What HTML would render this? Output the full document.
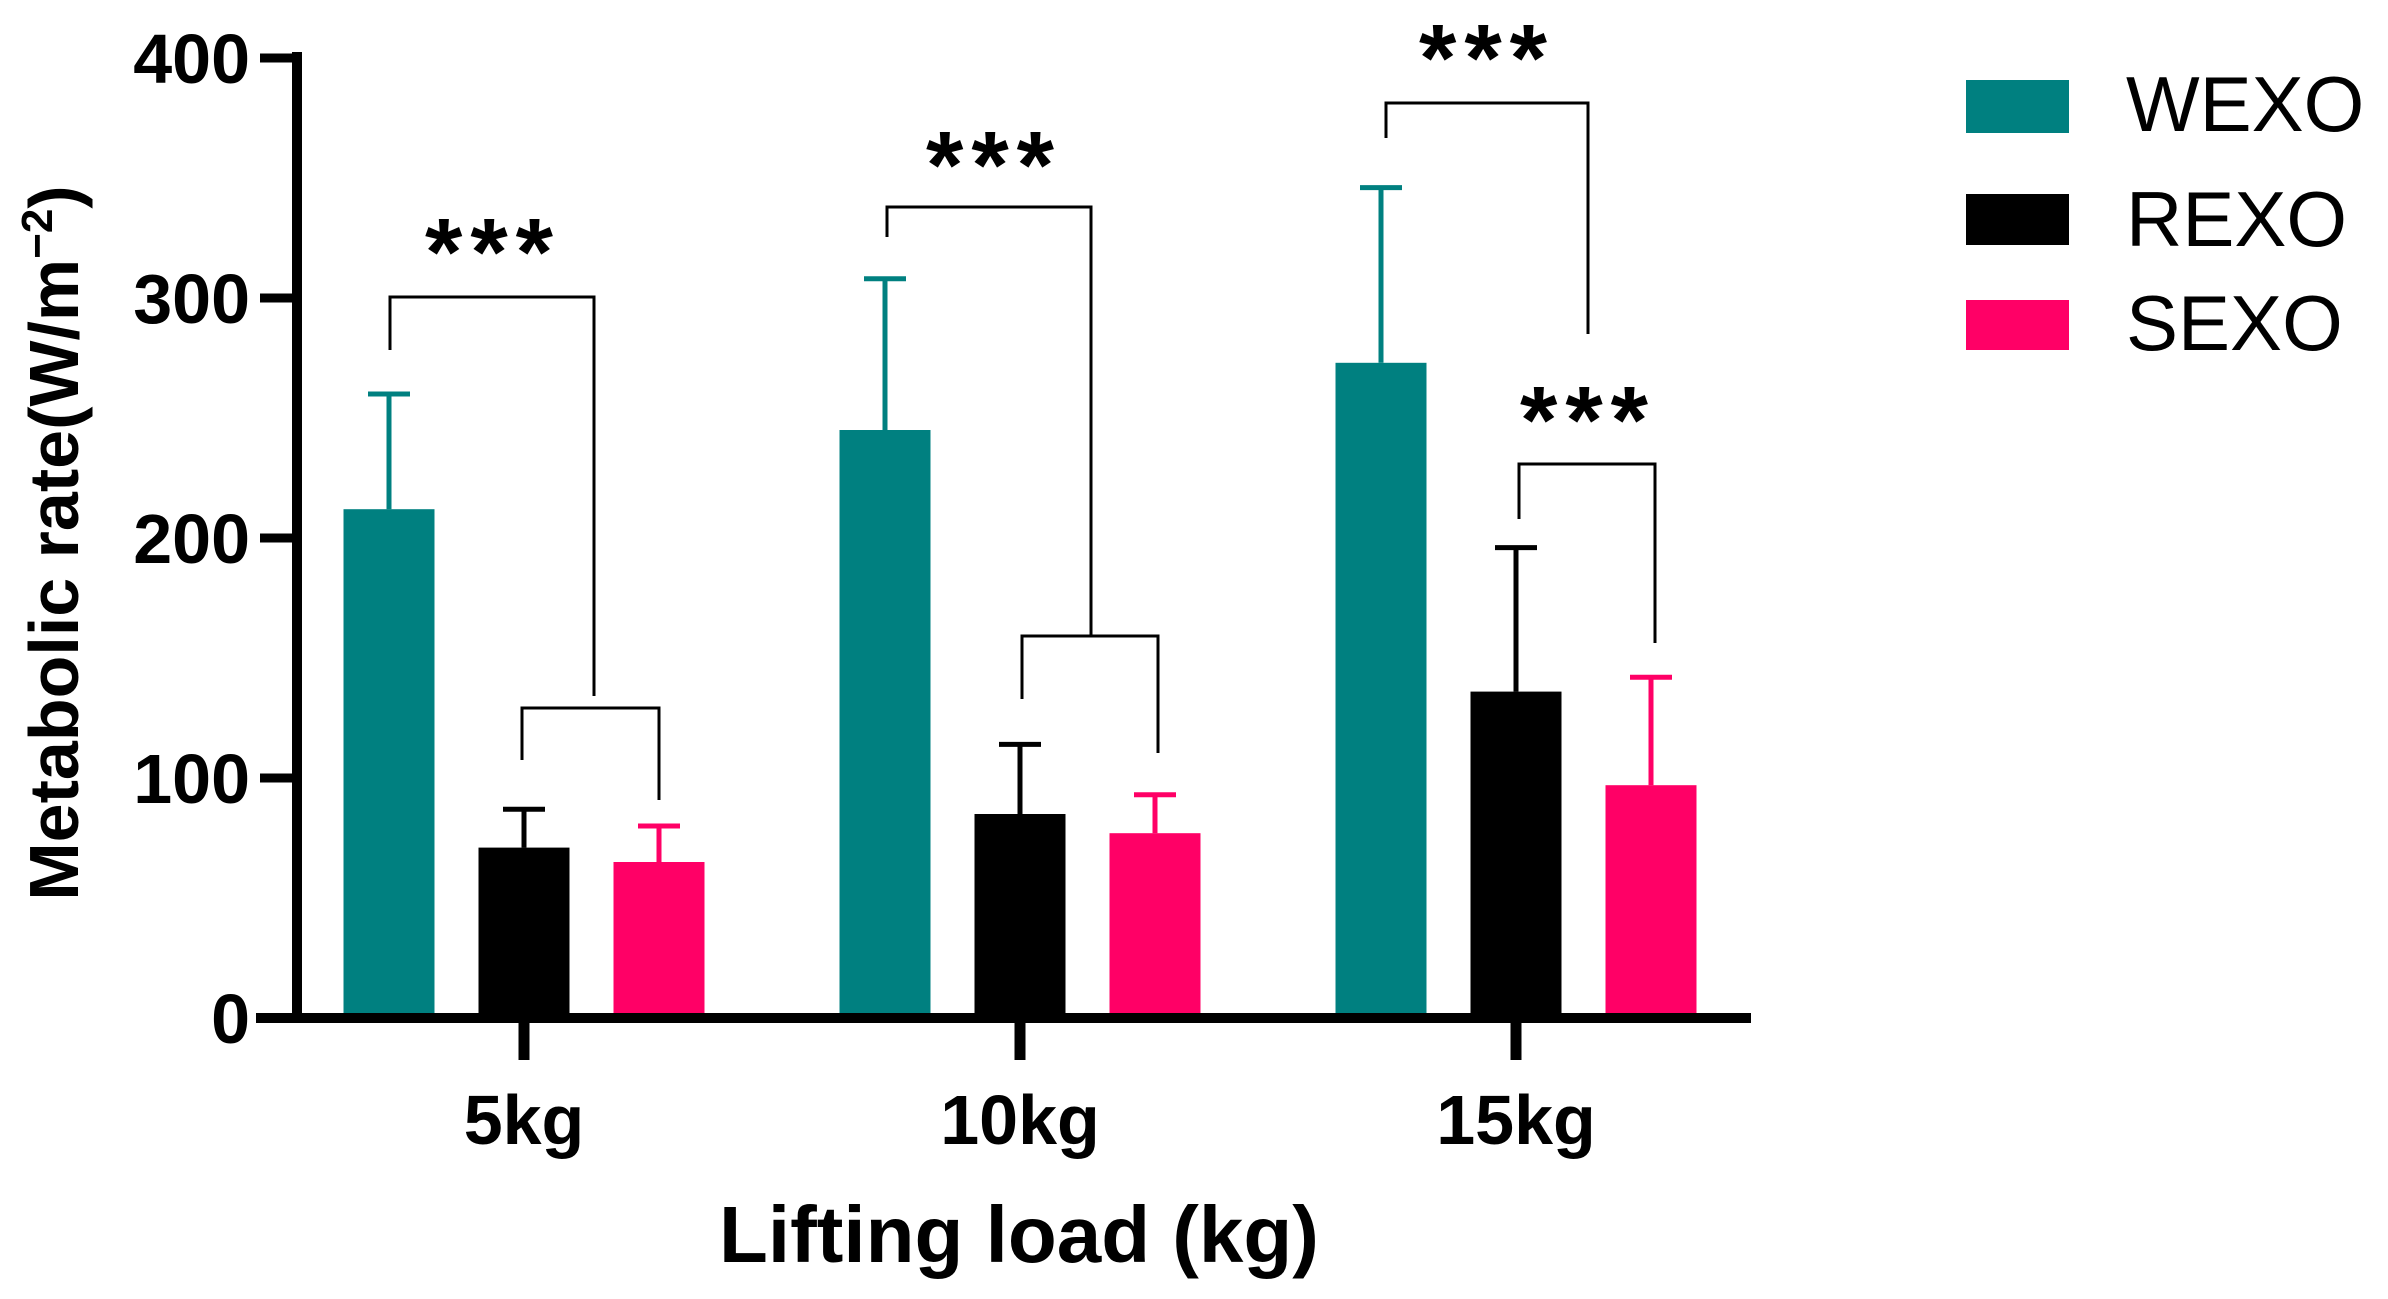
<!DOCTYPE html>
<html><head><meta charset="utf-8"><style>
html,body{margin:0;padding:0;background:#fff;}
svg{display:block;font-family:"Liberation Sans",Arial,sans-serif;font-weight:bold;}
</style></head><body>
<svg id="chart" width="2388" height="1299" viewBox="0 0 2388 1299" xmlns="http://www.w3.org/2000/svg">
<g id="bars"></g>
<g id="axes"></g>
<g id="sig"></g>
<text x="0" y="0" transform="translate(78,543) rotate(-90)" text-anchor="middle" font-size="70">Metabolic rate(W/m<tspan font-size="44" dy="-26">−2</tspan><tspan dy="26">)</tspan></text>
<text x="1019" y="1262" text-anchor="middle" font-size="80">Lifting load (kg)</text>
<g>
<rect x="1966" y="80" width="103" height="53" fill="#008080"/>
<text x="2126" y="131" font-size="78" font-weight="normal">WEXO</text>
<rect x="1966" y="194" width="103" height="51" fill="#000"/>
<text x="2126" y="246" font-size="78" font-weight="normal">REXO</text>
<rect x="1966" y="300" width="103" height="50" fill="#ff0066"/>
<text x="2126" y="350" font-size="78" font-weight="normal">SEXO</text>
</g>
</svg>
<script>
const categories = ["5kg","10kg","15kg"];
const seriesNames = ["WEXO","REXO","SEXO"];
const wexo = [212, 245, 273];
const wexoErr = [260, 308, 346];
const rexo = [71, 85, 136];
const rexoErr = [87, 114, 196];
const sexo = [65, 77, 97];
const sexoErr = [80, 93, 142];
const yTicks = [0, 100, 200, 300, 400];
const colors = ["#008080", "#000000", "#ff0066"];

const NS = "http://www.w3.org/2000/svg";
const y0 = 1018, pxPerUnit = 240/100;
function yScale(v){ return y0 - v*pxPerUnit; }
function groupX(i){ return 524 + i*496; }
function barX(i, s){ return groupX(i) + (s-1)*135; }
const barW = 91;
function mk(tag, attrs, parent){
  const e = document.createElementNS(NS, tag);
  for (const k in attrs) e.setAttribute(k, attrs[k]);
  parent.appendChild(e);
  return e;
}
const barsG = document.getElementById('bars');
const axesG = document.getElementById('axes');
const sigG = document.getElementById('sig');
const vals = [wexo, rexo, sexo];
const errs = [wexoErr, rexoErr, sexoErr];
categories.forEach((c, i) => {
  for (let s = 0; s < 3; s++) {
    const cx = barX(i, s);
    const top = yScale(vals[s][i]);
    const r = mk('rect', {x: cx - barW/2, y: top, width: barW, height: y0 - top, fill: colors[s]}, barsG);
    
    
    const et = yScale(errs[s][i]);
    const eg = mk('path', {d: `M${cx} ${top} V${et} M${cx-21} ${et} H${cx+21}`, stroke: colors[s], 'stroke-width': 5, fill: 'none'}, barsG);
    
    
  }
  const t = mk('line', {x1: groupX(i), x2: groupX(i), y1: y0, y2: 1060, stroke: '#000', 'stroke-width': 11}, axesG);
  
  
  const tl = mk('text', {x: groupX(i), y: 1144, 'text-anchor': 'middle', 'font-size': 70}, axesG);
  tl.textContent = c;
  
  
});
yTicks.forEach(v => {
  const y = yScale(v);
  const t = mk('line', {x1: 260, x2: 297, y1: y, y2: y, stroke: '#000', 'stroke-width': 9}, axesG);
  
  
  const tl = mk('text', {x: 250, y: y + 25, 'text-anchor': 'end', 'font-size': 70}, axesG);
  tl.textContent = v;
  
  
});
const ya = mk('line', {x1: 297, x2: 297, y1: 52, y2: 1023, stroke: '#000', 'stroke-width': 10}, axesG);


const xa = mk('line', {x1: 256, x2: 1751, y1: y0, y2: y0, stroke: '#000', 'stroke-width': 10}, axesG);



// significance brackets: [x1, x2, top, leftBottom, rightBottom, starX, starY]
const brackets = [
  [390, 594, 297, 350, 696, 493, 237],
  [522, 659, 708, 760, 800, null, null],
  [887, 1091, 207, 237, 636, 994, 150],
  [1022, 1158, 636, 699, 753, null, null],
  [1386, 1588, 103, 138, 334, 1487, 43],
  [1519, 1655, 464, 519, 643, 1588, 405]
];
brackets.forEach((b, k) => {
  const p = mk('path', {d: `M${b[0]} ${b[3]} V${b[2]} H${b[1]} V${b[4]}`, stroke: '#000', 'stroke-width': 3, fill: 'none'}, sigG);
  
  
  if (b[5] !== null) {
    const s = mk('text', {x: b[5], y: b[6] + 48, 'text-anchor': 'middle', 'font-size': 96, 'letter-spacing': 8}, sigG);
    s.textContent = '***';
    
    
  }
});
</script>
</body></html>
